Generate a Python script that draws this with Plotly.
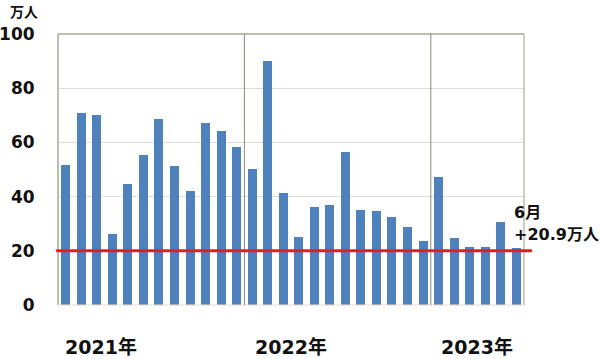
import plotly.graph_objects as go

months = [f"{y}-{m:02d}" for y, n in [(2021, 12), (2022, 12), (2023, 6)] for m in range(1, n + 1)]
values = [51.7, 70.7, 70.1, 26.1, 44.6, 55.3, 68.6, 51.4, 42.2, 67.3, 64.3, 58.4,
          50.1, 90.1, 41.2, 25.2, 36.3, 36.9, 56.6, 35.1, 34.8, 32.3, 28.9, 23.7,
          47.1, 24.6, 21.5, 21.5, 30.5, 20.9]
threshold = 20
year_labels = ["2021年", "2022年", "2023年"]
year_label_pos = [2.3, 14.5, 26.5]
year_boundaries = [11.5, 23.5]
y_ticks = [0, 20, 40, 60, 80, 100]

FONT = "DejaVu Sans, Noto Sans CJK JP, sans-serif"
x_idx = list(range(len(values)))

fig = go.Figure()
fig.add_trace(go.Bar(x=x_idx, y=values, marker=dict(color="#4f81bd", line=dict(width=0)),
                     width=0.58, hoverinfo="y"))

shapes = []
shapes.append(dict(type="line", xref="paper", yref="paper", x0=0, x1=0, y0=0, y1=1,
                   line=dict(color="#a8a898", width=1.5)))
shapes.append(dict(type="line", xref="paper", yref="paper", x0=0, x1=1, y0=1, y1=1,
                   line=dict(color="#a8a898", width=1.5)))
shapes.append(dict(type="line", xref="paper", yref="paper", x0=1, x1=1, y0=0, y1=1,
                   line=dict(color="#b0ab98", width=1.2)))
shapes.append(dict(type="line", xref="paper", yref="paper", x0=0, x1=1, y0=0, y1=0,
                   line=dict(color="#e8e0cc", width=1.2)))
for b in year_boundaries:
    shapes.append(dict(type="line", xref="x", yref="paper", x0=b, x1=b, y0=0, y1=1,
                       line=dict(color="#8c8a78", width=1)))
shapes.append(dict(type="line", xref="paper", yref="y", x0=-0.004, x1=1.017,
                   y0=threshold, y1=threshold, line=dict(color="#e0201c", width=3)))

annotations = []
for lbl, pos in zip(year_labels, year_label_pos):
    annotations.append(dict(x=pos, y=0, xref="x", yref="paper", text=f"<b>{lbl}</b>",
                            showarrow=False, yanchor="middle", xanchor="center", yshift=-42,
                            font=dict(family=FONT, size=19, color="#111111")))
annotations.append(dict(x=-0.072, y=1.081, xref="paper", yref="paper", text="<b>万人</b>",
                        showarrow=False, xanchor="center", yanchor="middle",
                        font=dict(family=FONT, size=14, color="#111111")))
annotations.append(dict(x=0.974, y=(305 - 212) / 271, xref="paper", yref="paper", text="<b>6月</b>",
                        showarrow=False, xanchor="left", yanchor="middle",
                        font=dict(family=FONT, size=16, color="#111111")))
annotations.append(dict(x=0.974, y=(305 - 234) / 271, xref="paper", yref="paper",
                        text=f"<b>+{values[-1]}万人</b>",
                        showarrow=False, xanchor="left", yanchor="middle",
                        font=dict(family=FONT, size=16, color="#111111")))

fig.update_layout(
    width=600, height=359,
    margin=dict(l=57.5, r=76, t=34, b=54, autoexpand=False),
    paper_bgcolor="white", plot_bgcolor="white",
    showlegend=False, bargap=0,
    shapes=shapes, annotations=annotations,
    xaxis=dict(range=[-0.5, 29.5], showticklabels=False, showgrid=False, zeroline=False,
               showline=False, ticks="", fixedrange=True, automargin=False),
    yaxis=dict(range=[0, 100], tickvals=y_ticks, ticktext=[f"<b>{t}</b>" for t in y_ticks],
               tickfont=dict(family=FONT, size=17, color="#111111"),
               showgrid=True, gridcolor="#dcdcdc", gridwidth=1, zeroline=False,
               showline=False, ticks="outside", ticklen=19, tickcolor="rgba(0,0,0,0)",
               fixedrange=True, automargin=False),
)
fig.write_html("out.html", config={"displayModeBar": False},
               post_script="document.body.style.margin='0';document.body.style.overflow='hidden';")
